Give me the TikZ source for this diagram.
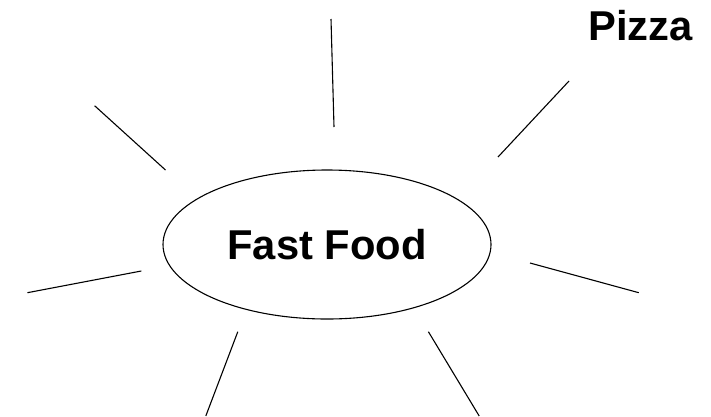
\documentclass[tikz,border=0pt]{standalone}
\usepackage{fontspec}
\setmainfont{Liberation Sans}
\usetikzlibrary{shapes.geometric,calc}
\tikzset{
  spoke/.style={line width=1.1pt},
  hubfont/.style={font=\fontsize{41.7}{44}\selectfont\bfseries}
}

\begin{document}
\begin{tikzpicture}[x=1pt,y=-1pt]
  \useasboundingbox (0,0) rectangle (711,416);
  \node[ellipse,draw,line width=1.1pt,inner sep=0pt,
        minimum width=328pt,minimum height=149pt,hubfont] (food) at (327,244.5) {Fast Food};
  \node[anchor=base west,inner sep=0pt,hubfont] (pizza) at (588,40.7) {Pizza};
  % spokes round the hub
  \coordinate (nIn)  at (334,127);   \coordinate (nOut)  at (331,19);
  \coordinate (nwIn) at (165.5,170); \coordinate (nwOut) at (94.6,105.7);
  \coordinate (neIn) at (498,157);   \coordinate (neOut) at (569,81);
  \coordinate (wIn)  at (141.3,271); \coordinate (wOut)  at (27.4,292.7);
  \coordinate (eIn)  at (530,263);   \coordinate (eOut)  at (638.8,292.7);
  \coordinate (swIn) at (237.8,331.7); \coordinate (swOut) at (205.8,416);
  \coordinate (seIn) at (428.4,331.7); \coordinate (seOut) at (479.2,416);
  \foreach \s in {n,nw,ne,w,e,sw,se}
    \draw[spoke] (\s In) -- (\s Out);
\end{tikzpicture}
\end{document}
